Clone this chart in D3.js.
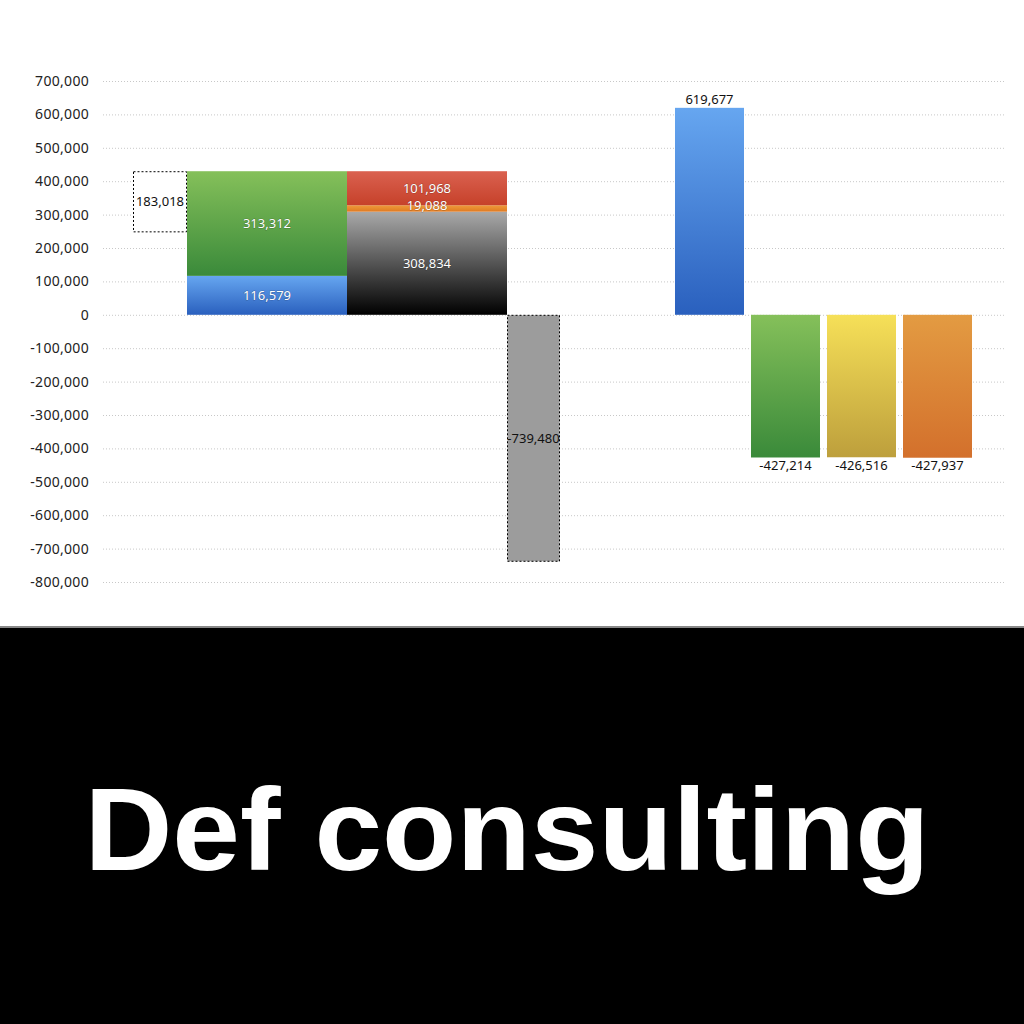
<!DOCTYPE html>
<html>
<head>
<meta charset="utf-8">
<script src="https://cdn.jsdelivr.net/npm/d3@7"></script>
<style>
  body { margin: 0; background: #fff; }
  svg text { font-family: "Noto Sans", "DejaVu Sans", sans-serif; }
</style>
</head>
<body>
<div class="chart"></div>
<script>
// chart values
var yTicks = [700000, 600000, 500000, 400000, 300000, 200000, 100000, 0,
  -100000, -200000, -300000, -400000, -500000, -600000, -700000, -800000];

// left waterfall part
var floatValue = 183018;           // dashed floating box
var stackA = [116579, 313312];      // blue, green
var stackB = [308834, 19088, 101968]; // black, orange, red
var dropValue = -739480;            // grey dashed bar

// right part
var rightNames = ["total", "g", "y", "o"];
var rightValues = [619677, -427214, -426516, -427937];

var svgWidth = 1024;
var svgHeight = 1024;

// plain hyphen for negatives
var fmt = d3.formatLocale({decimal: ".", thousands: ",", grouping: [3], currency: ["", ""], minus: "-"}).format(",");

var svg = d3.select(".chart")
  .append("svg")
  .attr("width", svgWidth)
  .attr("height", svgHeight);

// gradients
var defs = svg.append("defs");
function grad(id, top, bottom) {
  var g = defs.append("linearGradient")
    .attr("id", id)
    .attr("x1", 0).attr("y1", 0).attr("x2", 0).attr("y2", 1);
  g.append("stop").attr("offset", "0%").attr("stop-color", top);
  g.append("stop").attr("offset", "100%").attr("stop-color", bottom);
}
grad("gBlue", "#66a6f0", "#2a60be");
grad("gGreen", "#85c05a", "#3a8a3a");
grad("gBlack", "#a9a9a9", "#000000");
grad("gOrange", "#ee9a3a", "#e07a22");
grad("gRed", "#da6150", "#c6412a");
grad("gYellow", "#f6e058", "#bd9f3c");
grad("gOrange2", "#e39b42", "#d3702c");

var y = d3.scaleLinear()
  .domain([-800000, 700000])
  .range([582, 81]);

// grid lines
svg.append("g").selectAll("line")
  .data(yTicks)
  .enter()
  .append("line")
  .attr("x1", 103)
  .attr("x2", 1006)
  .attr("y1", d => y(d) + 0.5)
  .attr("y2", d => y(d) + 0.5)
  .attr("stroke", "#c8c8c8")
  .attr("stroke-width", 1)
  .attr("stroke-dasharray", "1,2");

// y axis labels
var leftAxis = d3.axisLeft(y)
  .tickValues(yTicks)
  .tickSize(0)
  .tickPadding(0)
  .tickFormat(fmt);

var axisG = svg.append("g")
  .attr("transform", "translate(89,0)")
  .call(leftAxis);
axisG.select(".domain").remove();
axisG.selectAll("text")
  .attr("font-size", 14)
  .attr("fill", "#222")
  .style("letter-spacing", "0.3px")
  .style("font-family", "'Noto Sans', sans-serif");

// left part x layout (pixel edges)
var xFloat = [133, 187], xA = [187, 347], xB = [347, 507], xDrop = [507, 560];

function label(x, yy, txt, color) {
  svg.append("text")
    .attr("x", x)
    .attr("y", yy)
    .attr("dy", "0.35em")
    .attr("text-anchor", "middle")
    .attr("font-size", 13)
    .attr("fill", color)
    .text(fmt(txt));
}

// stacks
function drawStack(vals, fills, xr, dyAdj) {
  var base = 0;
  vals.forEach(function(v, i) {
    var top = base + v;
    svg.append("rect")
      .attr("x", xr[0])
      .attr("width", xr[1] - xr[0])
      .attr("y", y(top))
      .attr("height", y(base) - y(top))
      .attr("fill", "url(#" + fills[i] + ")");
    base = top;
  });
  base = 0;
  vals.forEach(function(v, i) {
    var top = base + v;
    svg.append("text")
      .attr("x", (xr[0] + xr[1]) / 2)
      .attr("y", (y(base) + y(top)) / 2 + (dyAdj[i] || 0))
      .attr("dy", "0.35em")
      .attr("text-anchor", "middle")
      .attr("font-size", 13)
      .attr("fill", "#fff")
      .style("paint-order", "stroke")
      .attr("stroke", "rgba(0,0,0,0.25)")
      .attr("stroke-width", 1)
      .text(fmt(v));
    base = top;
  });
}

var stackATotal = d3.sum(stackA);
drawStack(stackA, ["gBlue", "gGreen"], xA, [0, 0]);
drawStack(stackB, ["gBlack", "gOrange", "gRed"], xB, [0, -3, 0]);

// floating dashed box
svg.append("rect")
  .attr("x", xFloat[0] + 0.5)
  .attr("width", xFloat[1] - xFloat[0] - 1)
  .attr("y", y(stackATotal) + 0.5)
  .attr("height", y(stackATotal - floatValue) - y(stackATotal) - 1)
  .attr("fill", "#fff")
  .attr("stroke", "#000")
  .attr("stroke-width", 1)
  .attr("stroke-dasharray", "2,2");
label((xFloat[0] + xFloat[1]) / 2, (y(stackATotal) + y(stackATotal - floatValue)) / 2, floatValue, "#111");

// grey dashed drop bar
svg.append("rect")
  .attr("x", xDrop[0] + 0.5)
  .attr("width", xDrop[1] - xDrop[0] - 1)
  .attr("y", y(0) + 0.5)
  .attr("height", y(dropValue) - y(0) - 1)
  .attr("fill", "#9c9c9c")
  .attr("stroke", "#000")
  .attr("stroke-width", 1)
  .attr("stroke-dasharray", "2,2");
label((xDrop[0] + xDrop[1]) / 2, (y(0) + y(dropValue)) / 2, dropValue, "#111");

// right bars
var x = d3.scaleBand()
  .domain(rightNames)
  .range([671.5, 975.5])
  .paddingInner(0.0921)
  .paddingOuter(0.046);

var rightFills = ["gBlue", "gGreen", "gYellow", "gOrange2"];

svg.append("g").selectAll("rect")
  .data(rightValues)
  .enter()
  .append("rect")
  .attr("x", (d, i) => x(rightNames[i]))
  .attr("width", x.bandwidth())
  .attr("y", d => y(Math.max(0, d)))
  .attr("height", d => Math.abs(y(d) - y(0)))
  .attr("fill", (d, i) => "url(#" + rightFills[i] + ")");

svg.append("g").selectAll("text")
  .data(rightValues)
  .enter()
  .append("text")
  .attr("x", (d, i) => x(rightNames[i]) + x.bandwidth() / 2)
  .attr("y", d => d >= 0 ? y(d) - 8 : y(d) + 8)
  .attr("dy", "0.35em")
  .attr("text-anchor", "middle")
  .attr("font-size", 13)
  .attr("fill", "#111")
  .text(d => fmt(d));

// footer
svg.append("rect")
  .attr("x", 0).attr("y", 626)
  .attr("width", svgWidth).attr("height", 2)
  .attr("fill", "#888");
svg.append("rect")
  .attr("x", 0).attr("y", 628)
  .attr("width", svgWidth).attr("height", svgHeight - 628)
  .attr("fill", "#000");
svg.append("text")
  .attr("x", 507)
  .attr("y", 870)
  .attr("text-anchor", "middle")
  .attr("font-size", 116)
  .attr("font-weight", "bold")
  .attr("fill", "#fff")
  .style("font-family", "'Liberation Sans', Arial, sans-serif")
  .attr("textLength", 845)
  .attr("lengthAdjust", "spacingAndGlyphs")
  .text("Def consulting");
</script>
</body>
</html>
